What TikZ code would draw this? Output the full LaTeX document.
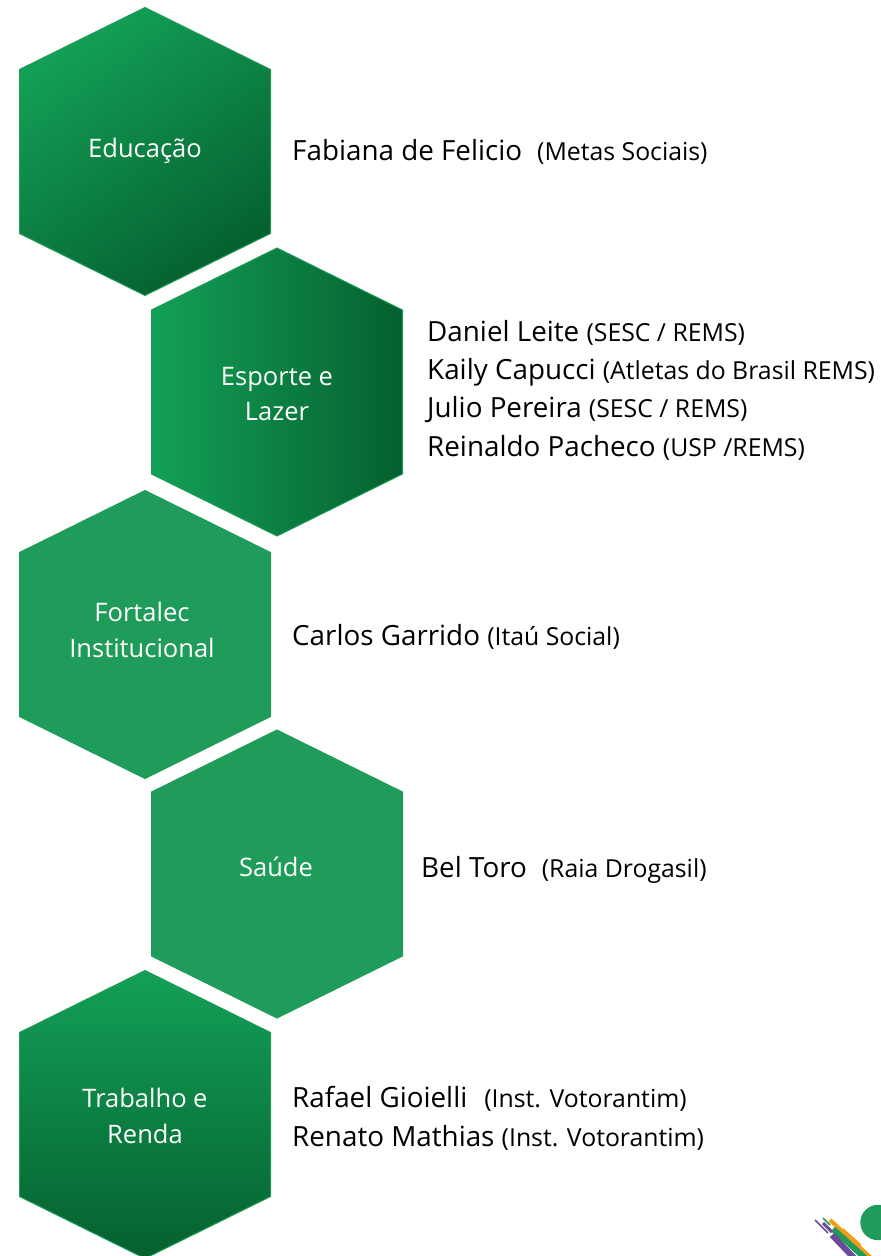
\documentclass[tikz,border=0pt]{standalone}
\usepackage{fontspec}
\setmainfont{Open Sans}
\definecolor{gA}{HTML}{13A056}
\definecolor{gB}{HTML}{05602F}
\definecolor{gF}{HTML}{1F9B5A}
\definecolor{lnP}{HTML}{6B4C9A}
\definecolor{lnO}{HTML}{F39C12}
\tikzset{
  hexline/.style={draw=gF,line width=1pt},
  hexlabel/.style={text=white,font=\fontsize{25.5}{35.5}\selectfont,align=center,inner sep=0pt},
  person/.style={anchor=west,inner sep=0pt,font=\fontsize{27.8}{39}\selectfont},
}
\newcommand{\hexpath}[2]{(#1-125.5,#2-82) -- (#1,#2-144) -- (#1+125.5,#2-82) -- (#1+125.5,#2+82) -- (#1,#2+144) -- (#1-125.5,#2+82) -- cycle}
\newcommand{\org}[1]{{\fontsize{24.8}{30}\selectfont #1}}
\begin{document}
\begin{tikzpicture}[x=1pt,y=-1pt]
\useasboundingbox (0,0) rectangle (881,1256);
\shade[hexline,left color=gA,right color=gB,shading angle=35] \hexpath{145}{151.5};
\shade[hexline,left color=gA,right color=gB] \hexpath{277}{392};
\fill[hexline,fill=gF] \hexpath{145}{634.5};
\fill[hexline,fill=gF] \hexpath{277}{874};
\shade[hexline,top color=gA,bottom color=gB] \hexpath{145}{1114.5};
\node[hexlabel] (h1) at (145,151) {Educação};
\node[hexlabel] (h2) at (277,394) {Esporte e\\Lazer};
\node[hexlabel] (h3) at (142,630) {Fortalec\\Institucional};
\node[hexlabel] (h4) at (276,867) {Saúde};
\node[hexlabel] (h5) at (145,1116) {Trabalho e\\Renda};
\node[person] (p1) at (292,152) {Fabiana de Felicio\hspace{15pt}\org{(Metas Sociais)}};
\node[person] (p2) at (427,333) {Daniel Leite \org{(SESC / REMS)}};
\node[person] (p3) at (427,372) {Kaily Capucci \org{(Atletas do Brasil REMS)}};
\node[person] (p4) at (427,410) {Julio Pereira \org{(SESC / REMS)}};
\node[person] (p5) at (427,448) {Reinaldo Pacheco \org{(USP /REMS)}};
\node[person] (p6) at (292,637) {Carlos Garrido \org{(Itaú Social)}};
\node[person] (p7) at (421,870) {Bel Toro\hspace{15pt}\org{(Raia Drogasil)}};
\node[person] (p8) at (292,1099) {Rafael Gioielli\hspace{17pt}\org{(Inst. Votorantim)}};
\node[person] (p9) at (292,1138) {Renato Mathias \org{(Inst. Votorantim)}};
\fill[gF] (878,1222.5) circle (17.7);
\begin{scope}
\clip (780,1180) rectangle (881,1256);
\draw[lnO,line width=4pt] (830,1220) -- (871,1258);
\draw[lnO,line width=1.5pt] (843,1229) -- (861,1245);
\draw[gF,line width=1.5pt] (823,1218) -- (830,1225);
\draw[gF,line width=6pt] (833,1229) -- (865,1258);
\draw[lnP,line width=1.5pt] (815,1220) -- (828,1233);
\draw[lnP,line width=3pt] (823,1223) -- (832,1232);
\draw[lnP,line width=6pt] (832,1235) -- (854,1258);
\end{scope}
\end{tikzpicture}
\end{document}
